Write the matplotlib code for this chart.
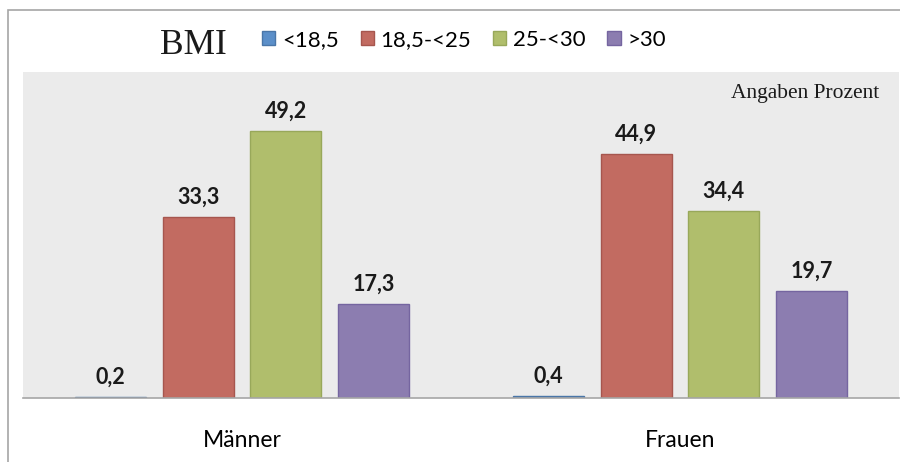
import matplotlib.pyplot as plt
import numpy as np
from matplotlib.patches import Rectangle

# Data
groups = ['Männer', 'Frauen']
bmi_classes = ['<18,5', '18,5-<25', '25-<30', '>30']
bmi_values = [
    [0.2, 0.4],    # <18,5
    [33.3, 44.9],  # 18,5-<25
    [49.2, 34.4],  # 25-<30
    [17.3, 19.7],  # >30
]
bar_colors = ['#5B8FC9', '#C26B61', '#B0BE6C', '#8C7DB0']
edge_colors = ['#4A76A8', '#A6564E', '#98A85A', '#7565A0']

plt.rcParams['font.family'] = ['Lato', 'DejaVu Sans']

fig = plt.figure(figsize=(9, 4.62), dpi=100)
W, H = 900, 462

# outer chart frame (cropped at right and bottom)
fig.add_artist(Rectangle((8 / W, -0.1), 1.2, 1.1 - 10 / H, transform=fig.transFigure,
                         fill=False, edgecolor='#A6A6A6', linewidth=1.2))

ax = fig.add_axes([23 / W, 64 / H, 876 / W, 326 / H])
ax.set_facecolor('#EBEBEB')

x = np.arange(len(groups))
pitch = 0.2
width = 0.162
for i, (name, vals) in enumerate(zip(bmi_classes, bmi_values)):
    pos = x + (i - 1.5) * pitch
    bars = ax.bar(pos, vals, width, color=bar_colors[i], edgecolor=edge_colors[i],
                  linewidth=1.0, label=name, zorder=2)
    for b, v in zip(bars, vals):
        ax.annotate(f'{v:.1f}'.replace('.', ','), (b.get_x() + b.get_width() / 2, v),
                    xytext=(0, 6.5), textcoords='offset points', ha='center', va='bottom',
                    fontsize=15.5, fontweight='bold', color='#1a1a1a')

ax.set_xlim(-0.5, 1.5)
ax.set_ylim(0, 60)
ax.set_yticks([])
ax.set_xticks(x)
ax.set_xticklabels(groups, fontsize=16.5)
ax.tick_params(axis='x', length=0, pad=23)
for s in ['top', 'left', 'right']:
    ax.spines[s].set_visible(False)
ax.spines['bottom'].set_color('#A6A6A6')
ax.spines['bottom'].set_linewidth(1.2)

ax.text(0.977, 0.935, 'Angaben Prozent', transform=ax.transAxes, ha='right', va='center',
        fontsize=15.5, family='Liberation Serif', color='#1a1a1a')

fig.text(193 / W, 1 - 46 / H, 'BMI', ha='center', va='center', fontsize=25.5,
         family='Liberation Serif', color='#1a1a1a')

leg = fig.legend(loc='center left', bbox_to_anchor=(262 / W, 1 - 40 / H), ncol=4,
                 frameon=False, fontsize=16, handlelength=0.6, handleheight=0.6,
                 handletextpad=0.3, columnspacing=0.98, borderaxespad=0, borderpad=0)

fig.savefig('out.png', dpi=100)
